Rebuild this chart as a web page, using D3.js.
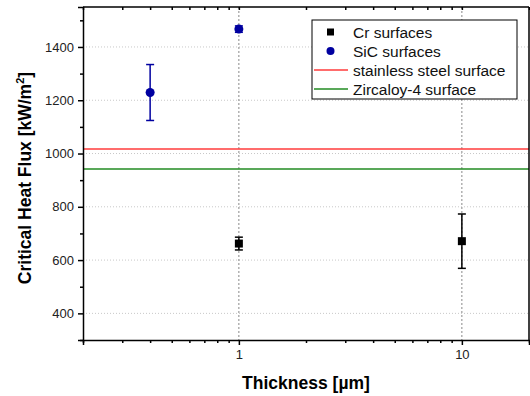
<!DOCTYPE html>
<html>
<head>
<meta charset="utf-8">
<script src="https://cdn.jsdelivr.net/npm/d3@7"></script>
<style>
  body { margin: 0; background: #fff; }
  text { font-family: "Liberation Sans", Arial, sans-serif; }
</style>
</head>
<body>
<svg id="chart" width="530" height="396"></svg>
<script>
// data
const crThick = [1, 10];
const crChf = [662, 671];
const crErr = [24, 102];

const sicThick = [0.4, 1];
const sicChf = [1229, 1467];
const sicErr = [105, 12];

const refNames = ["stainless steel surface", "Zircaloy-4 surface"];
const refChf = [1017, 942];
const refColors = ["#ff3b3b", "#228b22"];

const yTicks = [400, 600, 800, 1000, 1200, 1400];
const xTicks = [1, 10];

const margin = { top: 7, right: 1, bottom: 56, left: 83 };
const width = 530 - margin.left - margin.right;
const height = 396 - margin.top - margin.bottom;

const svg = d3.select("#chart");
const g = svg.append("g").attr("transform", `translate(${margin.left},${margin.top})`);

const x = d3.scaleLog().domain([0.2, 20]).range([0, width]);
const y = d3.scaleLinear().domain([300, 1550]).range([height, 0]);

// grid
g.selectAll(".hgrid").data(yTicks).enter().append("line")
  .attr("x1", 0).attr("x2", width)
  .attr("y1", d => y(d)).attr("y2", d => y(d))
  .attr("stroke", "#c8c8c8").attr("stroke-dasharray", "1,2");
g.selectAll(".vgrid").data(xTicks).enter().append("line")
  .attr("x1", d => x(d)).attr("x2", d => x(d))
  .attr("y1", 0).attr("y2", height)
  .attr("stroke", "#888").attr("stroke-dasharray", "2,2");

// reference lines
g.selectAll(".ref").data(refChf).enter().append("line")
  .attr("x1", 0).attr("x2", width)
  .attr("y1", d => y(d)).attr("y2", d => y(d))
  .attr("stroke", (d, i) => refColors[i]).attr("stroke-width", 1.5);

// axes
const xMinor = [0.2, 0.3, 0.4, 0.5, 0.6, 0.7, 0.8, 0.9, 2, 3, 4, 5, 6, 7, 8, 9, 20];
g.append("g").attr("transform", `translate(0,${height})`)
  .call(d3.axisBottom(x).tickValues(xTicks).tickFormat(d3.format("d")).tickSize(5).tickPadding(5));
g.append("g").attr("transform", `translate(0,${height})`)
  .call(d3.axisBottom(x).tickValues(xMinor).tickFormat("").tickSize(3))
  .select(".domain").remove();
g.append("g")
  .call(d3.axisBottom(x).tickValues(xMinor.concat(xTicks)).tickFormat("").tickSize(3))
  .select(".domain").remove();

const yMinor = [300, 500, 700, 900, 1100, 1300, 1500];
g.append("g")
  .call(d3.axisLeft(y).tickValues(yTicks).tickFormat(d3.format("d")).tickSize(5).tickPadding(4));
g.append("g")
  .call(d3.axisLeft(y).tickValues(yMinor).tickFormat("").tickSize(3))
  .select(".domain").remove();

g.selectAll(".tick text").attr("font-size", 13).attr("fill", "#222");
g.selectAll(".domain, .tick line").attr("stroke", "#000").attr("stroke-width", 1.5);

// frame top & right
g.append("line").attr("x1", 0).attr("x2", width).attr("y1", 0).attr("y2", 0)
  .attr("stroke", "#000").attr("stroke-width", 1.5);
g.append("line").attr("x1", width).attr("x2", width).attr("y1", 0).attr("y2", height)
  .attr("stroke", "#000").attr("stroke-width", 1.5);

// error bars
function errorBars(xs, ys, es, color) {
  const eg = g.append("g").attr("stroke", color).attr("stroke-width", 1.5);
  xs.forEach((xv, i) => {
    const cx = x(xv);
    eg.append("line").attr("x1", cx).attr("x2", cx)
      .attr("y1", y(ys[i] - es[i])).attr("y2", y(ys[i] + es[i]));
    [ys[i] - es[i], ys[i] + es[i]].forEach(v => {
      eg.append("line").attr("x1", cx - 4).attr("x2", cx + 4)
        .attr("y1", y(v)).attr("y2", y(v));
    });
  });
}
errorBars(crThick, crChf, crErr, "#000");
errorBars(sicThick, sicChf, sicErr, "#0000a0");

g.selectAll(".cr").data(crThick).enter().append("rect")
  .attr("x", d => x(d) - 4).attr("y", (d, i) => y(crChf[i]) - 4)
  .attr("width", 8).attr("height", 8).attr("fill", "#000");
g.selectAll(".sic").data(sicThick).enter().append("circle")
  .attr("cx", d => x(d)).attr("cy", (d, i) => y(sicChf[i]))
  .attr("r", 4.5).attr("fill", "#0000a0");

// axis titles
svg.append("text").attr("x", 306).attr("y", 389).attr("text-anchor", "middle")
  .attr("font-size", 17.5).attr("font-weight", "bold").text("Thickness [\u00b5m]");
const yt = svg.append("text").attr("transform", "translate(31,178) rotate(-90)")
  .attr("text-anchor", "middle").attr("font-size", 17.5).attr("font-weight", "bold");
yt.append("tspan").text("Critical Heat Flux [kW/m");
yt.append("tspan").attr("font-size", 11).attr("dy", -7).text("2");
yt.append("tspan").attr("dy", 7).text("]");

// legend
const lg = svg.append("g").attr("transform", "translate(312,20)");
lg.append("rect").attr("width", 205).attr("height", 79)
  .attr("fill", "#fff").attr("stroke", "#000").attr("stroke-width", 1);
const legItems = ["Cr surfaces", "SiC surfaces"].concat(refNames);
legItems.forEach((name, i) => {
  const ly = 12 + i * 19;
  if (i === 0) {
    lg.append("rect").attr("x", 15).attr("y", ly - 3.5).attr("width", 7).attr("height", 7).attr("fill", "#000");
  } else if (i === 1) {
    lg.append("circle").attr("cx", 18.5).attr("cy", ly).attr("r", 4).attr("fill", "#0000a0");
  } else {
    lg.append("line").attr("x1", 2).attr("x2", 36).attr("y1", ly).attr("y2", ly)
      .attr("stroke", refColors[i - 2]).attr("stroke-width", 1.5);
  }
  lg.append("text").attr("x", 41).attr("y", ly + 5.5).attr("font-size", 15.5).attr("fill", "#111").text(name);
});
</script>
</body>
</html>
